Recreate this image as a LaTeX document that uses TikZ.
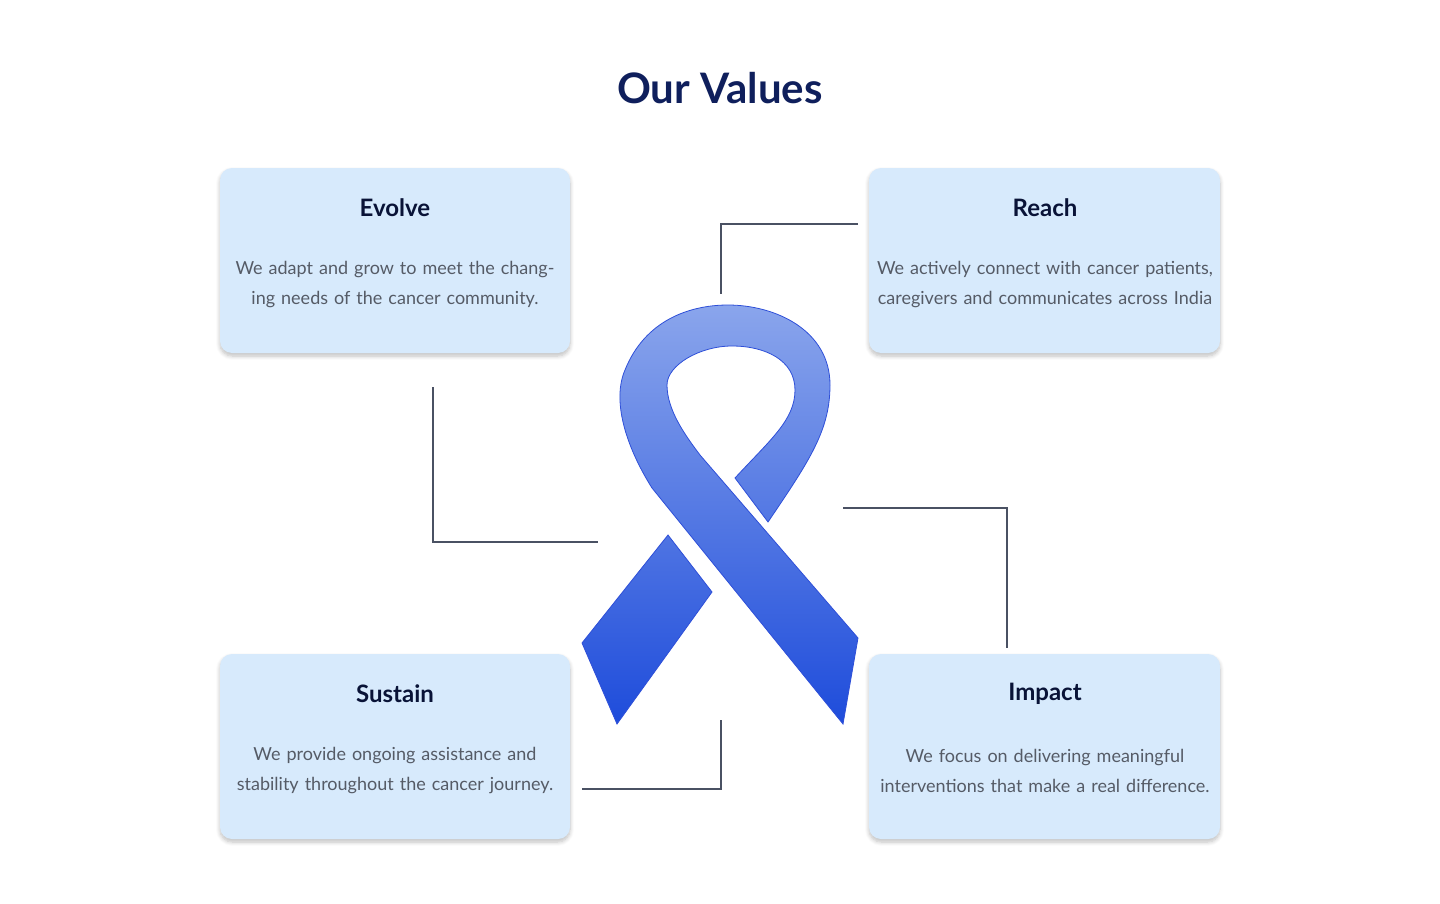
\documentclass[tikz,border=0pt]{standalone}
\usepackage{fontspec}
\setmainfont{Lato}
\usetikzlibrary{shadows.blur}
\definecolor{navy}{HTML}{0F1F5C}
\definecolor{boxfill}{HTML}{D7EAFC}
\definecolor{bodygray}{HTML}{555B66}
\definecolor{linegray}{HTML}{4A5163}
\definecolor{rTop}{HTML}{8AA5EC}
\definecolor{rBot}{HTML}{1E4CDB}
\definecolor{rEdge}{HTML}{2E4FD8}
\begin{document}
\begin{tikzpicture}[x=0.5pt,y=-0.5pt,
  card/.style={fill=boxfill,rounded corners=6pt,draw=none,blur shadow={shadow blur steps=6,shadow xshift=0pt,shadow yshift=-1.5pt,shadow opacity=25}},
  head/.style={font=\fontsize{12}{14}\selectfont\bfseries,text=navy!60!black},
  body/.style={font=\fontsize{9}{15}\selectfont,text=bodygray,align=center,text width=170pt},
  conn/.style={draw=linegray,line width=0.8pt}]
\useasboundingbox (0,0) rectangle (1440,904);
\node[font=\fontsize{21}{24}\selectfont\bfseries,text=navy] (title) at (720,88) {Our Values};
% cards
\path[card] (220,168) rectangle (570,353);
\path[card] (869,168) rectangle (1220,353);
\path[card] (220,654) rectangle (570,839);
\path[card] (869,654) rectangle (1220,839);
\node[head] (h1) at (395,208) {Evolve};
\node[body] (b1) at (395,285) {We adapt and grow to meet the changing needs of the cancer community.};
\node[head] (h2) at (1045,208) {Reach};
\node[body] (b2) at (1045,285) {We actively connect with cancer patients, caregivers and communicates across India};
\node[head] (h3) at (395,694) {Sustain};
\node[body] (b3) at (395,771) {We provide ongoing assistance and stability throughout the cancer journey.};
\node[head] (h4) at (1045,694) {Impact};
\node[body] (b4) at (1045,771) {We focus on delivering meaningful interventions that make a real difference.};
% connectors
\coordinate (r1) at (858,224); \coordinate (r2) at (721,294);
\coordinate (e1) at (433,387); \coordinate (e2) at (598,542);
\coordinate (i1) at (843,508); \coordinate (i2) at (1007,648);
\coordinate (s1) at (582,789); \coordinate (s2) at (721,720);
\draw[conn] (r1) -| (r2);
\draw[conn] (e1) |- (e2);
\draw[conn] (i1) -| (i2);
\draw[conn] (s1) -| (s2);
% ribbon left tail
\path[draw=rEdge,line width=0.4pt,top color=rBot!55!rTop,bottom color=rBot]
  (668,535) -- (712,592) -- (617,724) -- (582,643) -- cycle;
% ribbon main
\path[draw=rEdge,line width=0.4pt,top color=rTop,bottom color=rBot]
  (843,724) -- (652,488)
  .. controls (625,445) and (612,400) .. (625,370)
  .. controls (645,320) and (690,305) .. (728,305)
  .. controls (775,305) and (830,330) .. (830,385)
  .. controls (830,430) and (810,460) .. (768,522)
  -- (735,478)
  .. controls (770,440) and (795,420) .. (795,390)
  .. controls (795,360) and (765,346) .. (732,346)
  .. controls (700,346) and (667,365) .. (667,385)
  .. controls (667,410) and (685,435) .. (700,455)
  -- (858,638) -- cycle;
\end{tikzpicture}
\end{document}
